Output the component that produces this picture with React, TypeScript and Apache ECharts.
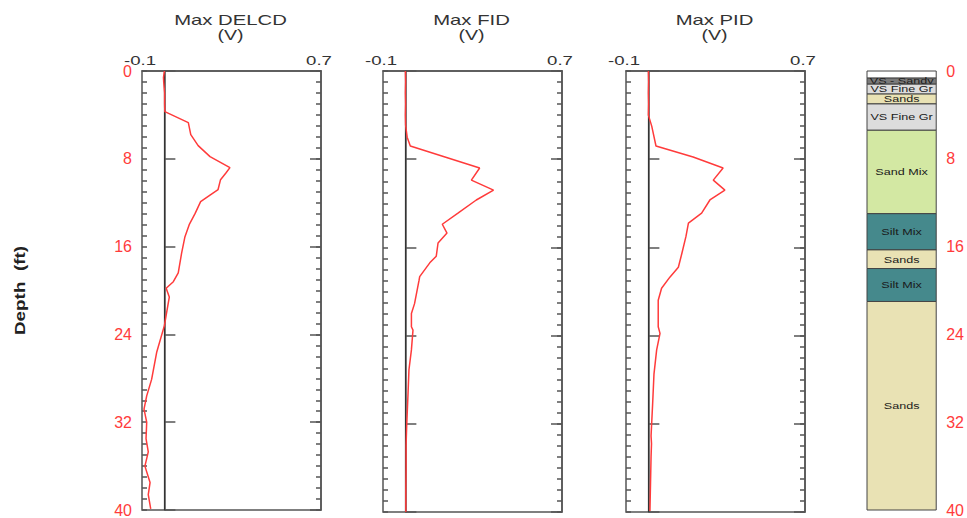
import { useEffect, useRef } from "react";
import * as echarts from "echarts";

// ---------- data ----------
const depthTicks = [0, 8, 16, 24, 32, 40];
const minorDepthStep = 1;
const valueTicks = [-0.1, 0.7];
const panelTitles = ["Max DELCD", "Max FID", "Max PID"];
const panelUnit = "(V)";
const depthLabel = "Depth  (ft)";

const delcdDepth = [0, 0.6, 1, 2, 3, 3.7, 4.7, 5.8, 6.8, 7.8, 8.8, 9.3, 9.9, 10.8, 11.3, 11.9, 13.0, 14.0, 15.1, 16.6, 18.4, 19.2, 19.8, 20.6, 23.2, 25.6, 28.1, 29.6, 30.8, 32.0, 33.5, 34.7, 36.0, 37.5, 38.6, 39.9];
const delcdValue = [0, -0.004, -0.003, 0.001, 0.001, 0.002, 0.107, 0.118, 0.151, 0.204, 0.293, 0.275, 0.251, 0.24, 0.204, 0.162, 0.137, 0.111, 0.092, 0.077, 0.062, 0.04, 0.008, 0.022, 0.0, -0.034, -0.057, -0.079, -0.091, -0.079, -0.082, -0.072, -0.087, -0.064, -0.072, -0.061];

const fidDepth = [0, 1, 2, 3, 4, 4.9, 6.0, 6.8, 8.8, 9.9, 10.8, 11.7, 12.9, 13.9, 14.7, 15.6, 16.8, 17.4, 18.65, 19.0, 21.1, 22.0, 23.2, 23.5, 25.3, 27.1, 29.2, 32.1, 34, 36, 38, 40];
const fidValue = [0, 0.001, 0.0, 0.001, 0.0, 0.001, 0.008, 0.022, 0.332, 0.295, 0.394, 0.317, 0.235, 0.165, 0.186, 0.146, 0.138, 0.109, 0.064, 0.061, 0.041, 0.027, 0.027, 0.034, 0.027, 0.016, 0.012, 0.006, 0.003, 0.003, 0.002, 0.002];

const pidDepth = [0, 1, 2, 3, 4.0, 5.0, 6.8, 7.8, 8.8, 9.9, 10.8, 11.7, 12.9, 13.8, 15.0, 16.6, 17.8, 18.7, 19.7, 20.8, 23.2, 23.8, 25.3, 27.5, 30.2, 33.1, 33.8, 35.0, 39.9];
const pidValue = [0, 0.001, 0.0, 0.001, 0.0, 0.015, 0.034, 0.2, 0.334, 0.29, 0.342, 0.275, 0.238, 0.179, 0.168, 0.149, 0.134, 0.096, 0.059, 0.044, 0.044, 0.052, 0.037, 0.025, 0.019, 0.012, 0.014, 0.012, 0.007];

const lithoTop = [0, 0.65, 1.2, 2.1, 3.0, 5.4, 13.0, 16.3, 18.0, 21.0];
const lithoBottom = [0.65, 1.2, 2.1, 3.0, 5.4, 13.0, 16.3, 18.0, 21.0, 40];
const lithoName = ["", "VS - Sandy", "VS Fine Gr", "Sands", "VS Fine Gr", "Sand Mix", "Silt Mix", "Sands", "Silt Mix", "Sands"];

// ---------- styles ----------
const FONT = "'Liberation Sans', Arial, sans-serif";
const lithoColor: Record<string, string> = {
  "": "#ffffff",
  "VS - Sandy": "#7a7a7a",
  "VS Fine Gr": "#dcdcdc",
  Sands: "#e9e2b4",
  "Sand Mix": "#d3e8a3",
  "Silt Mix": "#45898c",
};
const AXIS = "#555555";
const RED = "#ff3b3b";
const panelLeft = [142, 383, 626];
const panelWidth = 179;
const TOP = 71;
const HEIGHT = 441;

export default function App() {
  const ref = useRef<HTMLDivElement>(null);

  useEffect(() => {
    if (!ref.current) return;
    const chart = echarts.init(ref.current, undefined, { renderer: "svg" });

    const yAxisDef = (
      gridIndex: number,
      pos: "left" | "right",
      interval: number,
      tickLen: number,
      showTicks: boolean,
      showLine: boolean,
      showLabel: boolean
    ) => ({
      type: "value",
      gridIndex,
      position: pos,
      inverse: true,
      min: depthTicks[0],
      max: depthTicks[depthTicks.length - 1],
      interval,
      axisLine: { show: showLine, lineStyle: { color: AXIS, width: 1.5 } },
      axisTick: { show: showTicks, inside: true, length: tickLen, lineStyle: { color: AXIS, width: 1.5 } },
      splitLine: { show: false },
      axisLabel: {
        show: showLabel,
        color: RED,
        fontSize: 16,
        fontFamily: FONT,
        margin: 10,
      },
    });

    const seriesData = [
      delcdValue.map((v, i) => [v, delcdDepth[i]]),
      fidValue.map((v, i) => [v, fidDepth[i]]),
      pidValue.map((v, i) => [v, pidDepth[i]]),
    ];

    const grids: any[] = panelLeft.map((l) => ({
      left: l,
      top: TOP,
      width: panelWidth,
      height: HEIGHT,
      show: true,
      borderColor: AXIS,
      borderWidth: 1.5,
      backgroundColor: "transparent",
    }));
    grids.push({ left: 867, top: TOP, width: 70, height: HEIGHT, show: false });

    const xAxes: any[] = [0, 1, 2].map((i) => ({
      type: "value",
      gridIndex: i,
      position: "top",
      min: valueTicks[0],
      max: valueTicks[1],
      axisLine: { show: true, lineStyle: { color: AXIS, width: 1.5 } },
      axisTick: { show: false },
      axisLabel: { show: false },
      splitLine: { show: false },
    }));
    xAxes.push({ type: "value", gridIndex: 3, min: 0, max: 1, show: false });

    const majorStep = depthTicks[1] - depthTicks[0];
    const yAxes: any[] = [];
    const mainY: number[] = [];
    for (let i = 0; i < 3; i++) {
      mainY.push(yAxes.length);
      yAxes.push(yAxisDef(i, "left", majorStep, 11, true, true, i === 0));
      yAxes.push(yAxisDef(i, "left", minorDepthStep, 5, true, false, false));
      yAxes.push(yAxisDef(i, "right", majorStep, 11, true, true, false));
      yAxes.push(yAxisDef(i, "right", minorDepthStep, 5, true, false, false));
    }
    const lithoY = yAxes.length;
    yAxes.push(yAxisDef(3, "right", majorStep, 0, false, false, true));

    const series: any[] = seriesData.map((d, i) => ({
      type: "line",
      xAxisIndex: i,
      yAxisIndex: mainY[i],
      data: d,
      showSymbol: false,
      symbol: "none",
      lineStyle: { color: RED, width: 1.5 },
      z: 3,
      markLine: {
        silent: true,
        symbol: ["none", "none"],
        label: { show: false },
        lineStyle: { color: "#333333", width: 1.2, type: "solid" },
        data: [{ xAxis: 0 }],
        z: 2,
      },
    }));

    series.push({
      type: "custom",
      xAxisIndex: 3,
      yAxisIndex: lithoY,
      data: lithoTop.map((t, i) => [0.5, t, lithoBottom[i], i]),
      encode: { x: 0, y: 1 },
      renderItem: (_params: any, api: any) => {
        const idx = api.value(3);
        const name = lithoName[idx];
        const p0 = api.coord([0, api.value(1)]);
        const p1 = api.coord([1, api.value(2)]);
        return {
          type: "group",
          children: [
            {
              type: "rect",
              shape: { x: p0[0], y: p0[1], width: p1[0] - p0[0], height: p1[1] - p0[1] },
              style: { fill: lithoColor[name], stroke: "#444444", lineWidth: 1 },
            },
            {
              type: "text",
              x: (p0[0] + p1[0]) / 2,
              y: (p0[1] + p1[1]) / 2,
              scaleX: 1.4,
              style: {
                text: name,
                fill: "#1a1a1a",
                fontSize: 9,
                fontFamily: FONT,
                align: "center",
                verticalAlign: "middle",
                textAlign: "center",
                textVerticalAlign: "middle",
              },
            },
          ],
        };
      },
    });

    chart.setOption({
      animation: false,
      backgroundColor: "#ffffff",
      grid: grids,
      xAxis: xAxes,
      yAxis: yAxes,
      series,
    });

    // texts positioned through the axes' scales
    const graphics: any[] = [];
    const txt = (text: string, x: number, y: number, size: number, scaleX: number, extra: any = {}) => ({
      type: "text",
      x,
      y,
      scaleX,
      silent: true,
      ...extra,
      style: {
        text,
        fill: "#333333",
        fontSize: size,
        fontFamily: FONT,
        align: "center",
        verticalAlign: "middle",
        textAlign: "center",
        textVerticalAlign: "middle",
        ...(extra.style || {}),
      },
    });
    for (let i = 0; i < 3; i++) {
      const midV = (valueTicks[0] + valueTicks[1]) / 2;
      const c = chart.convertToPixel({ gridIndex: i } as any, [midV, 0]) as number[];
      graphics.push(txt(panelTitles[i], c[0] - 1, 20, 14, 1.45));
      graphics.push(txt(panelUnit, c[0] - 1, 35, 14, 1.4));
      valueTicks.forEach((v) => {
        const p = chart.convertToPixel({ gridIndex: i } as any, [v, 0]) as number[];
        graphics.push(txt(String(v), p[0] - 2, 61, 12, 1.55));
      });
    }
    const mid = chart.convertToPixel({ gridIndex: 0 } as any, [0, 20]) as number[];
    graphics.push(
      txt(depthLabel, 20, mid[1], 14, 1.35, {
        rotation: Math.PI / 2,
        style: { fontWeight: "bold", fill: "#222222" },
      })
    );
    chart.setOption({ graphic: graphics });

    return () => chart.dispose();
  }, []);

  return (
    <div
      ref={ref}
      style={{ position: "fixed", left: 0, top: 0, width: 967, height: 518, background: "#fff" }}
    />
  );
}
